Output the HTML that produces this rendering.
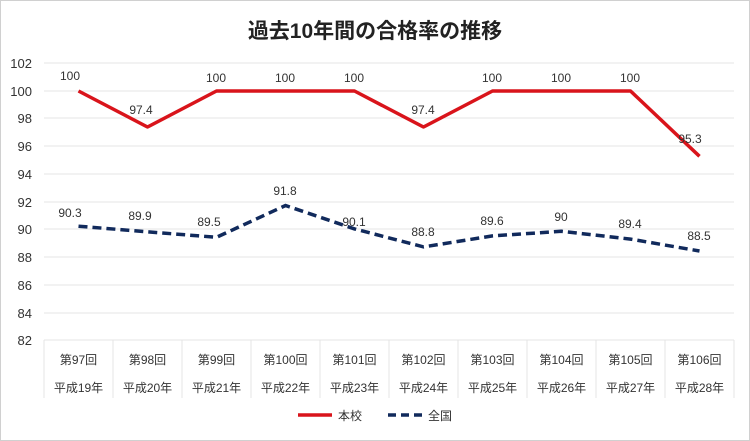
<!DOCTYPE html>
<html><head><meta charset="utf-8"><style>
body{margin:0;background:#fff}
svg{display:block;font-family:"Liberation Sans","Noto Sans CJK JP",sans-serif}
</style></head><body>
<svg width="750" height="441" viewBox="0 0 750 441">
<rect x="0.5" y="0.5" width="749" height="440" fill="#fff" stroke="#d0d0d0"/>
<text x="375" y="38" font-size="21" font-weight="bold" text-anchor="middle" fill="#222">過去10年間の合格率の推移</text>
<g stroke="#e4e4e4" stroke-width="1">
<line x1="44" x2="734" y1="63" y2="63"/><line x1="44" x2="734" y1="91" y2="91"/>
<line x1="44" x2="734" y1="118" y2="118"/><line x1="44" x2="734" y1="146" y2="146"/>
<line x1="44" x2="734" y1="174" y2="174"/><line x1="44" x2="734" y1="202" y2="202"/>
<line x1="44" x2="734" y1="229" y2="229"/><line x1="44" x2="734" y1="257" y2="257"/>
<line x1="44" x2="734" y1="285" y2="285"/><line x1="44" x2="734" y1="313" y2="313"/>
<line x1="44" x2="734" y1="340" y2="340"/>
<line x1="44" x2="44" y1="340" y2="398"/><line x1="113" x2="113" y1="340" y2="398"/>
<line x1="182" x2="182" y1="340" y2="398"/><line x1="251" x2="251" y1="340" y2="398"/>
<line x1="320" x2="320" y1="340" y2="398"/><line x1="389" x2="389" y1="340" y2="398"/>
<line x1="458" x2="458" y1="340" y2="398"/><line x1="527" x2="527" y1="340" y2="398"/>
<line x1="596" x2="596" y1="340" y2="398"/><line x1="665" x2="665" y1="340" y2="398"/>
<line x1="734" x2="734" y1="340" y2="398"/>
</g>
<g font-size="13" fill="#333" text-anchor="end">
<text x="32" y="68">102</text><text x="32" y="96">100</text><text x="32" y="123">98</text>
<text x="32" y="151">96</text><text x="32" y="179">94</text><text x="32" y="207">92</text>
<text x="32" y="234">90</text><text x="32" y="262">88</text><text x="32" y="290">86</text>
<text x="32" y="318">84</text><text x="32" y="345">82</text>
</g>
<g font-size="12" fill="#333" text-anchor="middle">
<text x="78.5" y="364">第97回</text><text x="78.5" y="392">平成19年</text>
<text x="147.5" y="364">第98回</text><text x="147.5" y="392">平成20年</text>
<text x="216.5" y="364">第99回</text><text x="216.5" y="392">平成21年</text>
<text x="285.5" y="364">第100回</text><text x="285.5" y="392">平成22年</text>
<text x="354.5" y="364">第101回</text><text x="354.5" y="392">平成23年</text>
<text x="423.5" y="364">第102回</text><text x="423.5" y="392">平成24年</text>
<text x="492.5" y="364">第103回</text><text x="492.5" y="392">平成25年</text>
<text x="561.5" y="364">第104回</text><text x="561.5" y="392">平成26年</text>
<text x="630.5" y="364">第105回</text><text x="630.5" y="392">平成27年</text>
<text x="699.5" y="364">第106回</text><text x="699.5" y="392">平成28年</text>
</g>
<polyline fill="none" stroke="#d9141b" stroke-width="3.5" stroke-linejoin="round" points="78.5,91 147.5,127 216.5,91 285.5,91 354.5,91 423.5,127 492.5,91 561.5,91 630.5,91 699.5,156.3"/>
<polyline fill="none" stroke="#112a5c" stroke-width="3.5" stroke-dasharray="9,5" points="78.5,226.2 147.5,231.8 216.5,237.3 285.5,205.5 354.5,228.9 423.5,246.9 492.5,235.9 561.5,231.3 630.5,239.1 699.5,251.0"/>
<g font-size="12" fill="#333" text-anchor="middle">
<text x="70" y="80">100</text><text x="141" y="114">97.4</text><text x="216" y="82">100</text>
<text x="285" y="82">100</text><text x="354" y="82">100</text><text x="423" y="114">97.4</text>
<text x="492" y="82">100</text><text x="561" y="82">100</text><text x="630" y="82">100</text>
<text x="690" y="143">95.3</text>
<text x="70" y="217">90.3</text><text x="140" y="220">89.9</text><text x="209" y="226">89.5</text>
<text x="285" y="195">91.8</text><text x="354" y="226">90.1</text><text x="423" y="236">88.8</text>
<text x="492" y="225">89.6</text><text x="561" y="221">90</text><text x="630" y="228">89.4</text>
<text x="699" y="240">88.5</text>
</g>
<line x1="298" x2="332" y1="415" y2="415" stroke="#d9141b" stroke-width="3.5"/>
<text x="338" y="420" font-size="12" fill="#333">本校</text>
<line x1="388" x2="422" y1="415" y2="415" stroke="#112a5c" stroke-width="3.5" stroke-dasharray="8,5"/>
<text x="428" y="420" font-size="12" fill="#333">全国</text>
</svg>
</body></html>
